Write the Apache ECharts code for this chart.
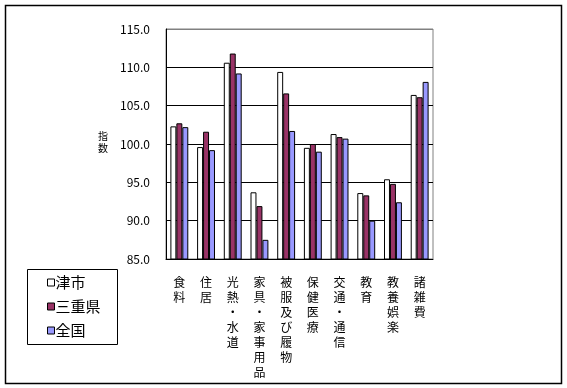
<!DOCTYPE html>
<html><head><meta charset="utf-8">
<script src="https://cdn.jsdelivr.net/npm/echarts@6/dist/echarts.min.js"></script>
<style>html,body{margin:0;padding:0;background:#fff;}#c{width:567px;height:388px;}</style>
</head><body><div id="c"></div>
<script>
const categories = ['食料','住居','光熱・水道','家具・家事用品','被服及び履物','保健医療','交通・通信','教育','教養娯楽','諸雑費'];
const tsuValues = [102.3, 99.6, 110.6, 93.7, 109.4, 99.5, 101.3, 93.6, 95.4, 106.4];
const mieValues = [102.7, 101.6, 111.8, 91.9, 106.6, 100.0, 100.9, 93.3, 94.8, 106.1];
const zenkokuValues = [102.2, 99.2, 109.2, 87.5, 101.7, 99.0, 100.7, 90.0, 92.4, 108.1];
const seriesNames = ['津市','三重県','全国'];
const yTicks = {min: 85, max: 115, interval: 5};

const font = "'Noto Sans CJK JP', sans-serif";
const chart = echarts.init(document.getElementById('c'));
const mk = (name, data, color) => ({
  name, type: 'bar', data, barGap: '0%', barCategoryGap: '33%',
  itemStyle: {color, borderColor: '#000', borderWidth: 1},
  animation: false
});
chart.setOption({
  animation: false,
  textStyle: {fontFamily: font},
  grid: {left: 166, top: 29, width: 267, height: 230, show: true, borderColor: '#808080', borderWidth: 1},
  legend: {
    orient: 'vertical', left: 47, top: 275, padding: 0, itemWidth: 7, itemHeight: 7, itemGap: 9,
    icon: 'rect', itemStyle: {borderWidth: 1, borderColor: '#000'},
    textStyle: {fontSize: 15, lineHeight: 15, color: '#000', fontFamily: font, padding: [0,0,0,-4]},
    data: seriesNames
  },
  xAxis: {
    type: 'category', data: categories.map(c => c.split('').join('\n')),
    axisLine: {lineStyle: {color: '#000', width: 1}},
    axisTick: {inside: true, length: 4, lineStyle: {color: '#000'}},
    axisLabel: {interval: 0, fontSize: 12, lineHeight: 15, color: '#000', margin: 16, fontFamily: font}
  },
  yAxis: {
    type: 'value', min: yTicks.min, max: yTicks.max, interval: yTicks.interval,
    axisLine: {show: true, lineStyle: {color: '#000', width: 1}},
    axisTick: {show: false},
    axisLabel: {fontSize: 12, color: '#000', margin: 16, formatter: v => v.toFixed(1), fontFamily: font},
    splitLine: {lineStyle: {color: ['#000','#000','#000','#000','#000','#000','#808080'], width: 1}}
  },
  graphic: [
    {type: 'rect', shape: {x: 5.5, y: 5.5, width: 556, height: 378}, style: {fill: 'none', stroke: '#000', lineWidth: 1.5}, silent: true},
    {type: 'rect', shape: {x: 27.5, y: 269.5, width: 90, height: 75}, style: {fill: 'none', stroke: '#000', lineWidth: 1}, silent: true},
    {type: 'text', left: 98, top: 130, style: {text: '指\n数', fontSize: 10, lineHeight: 12, fill: '#000', fontFamily: font}}
  ],
  series: [
    mk(seriesNames[0], tsuValues, '#ffffff'),
    mk(seriesNames[1], mieValues, '#993366'),
    mk(seriesNames[2], zenkokuValues, '#9999ff')
  ]
});
</script></body></html>
